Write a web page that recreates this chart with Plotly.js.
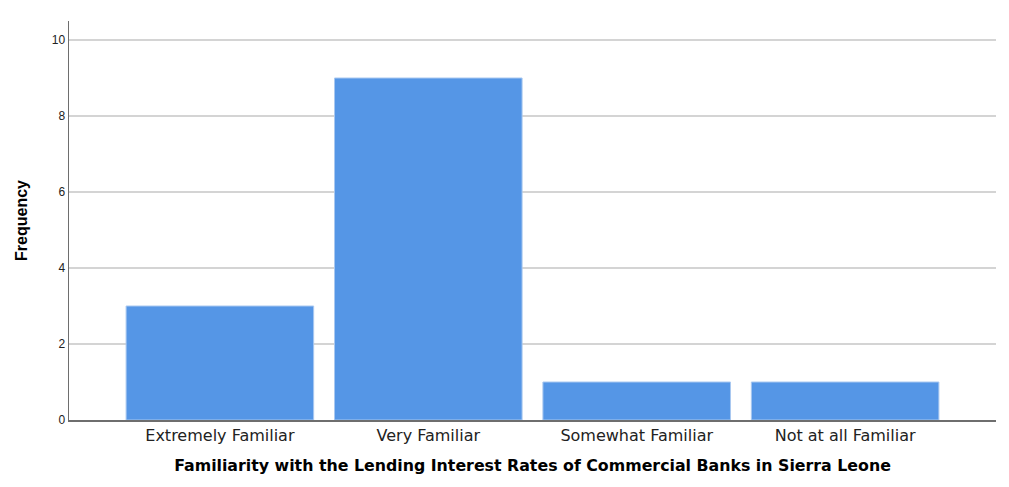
<!DOCTYPE html>
<html><head><meta charset="utf-8">
<script src="https://cdn.plot.ly/plotly-3.0.1.min.js"></script>
<style>html,body{margin:0;padding:0;background:#fff;}#chart{width:1009px;height:487px;}</style>
</head><body><div id="chart"></div>
<script>
const categories = ["Extremely Familiar", "Very Familiar", "Somewhat Familiar", "Not at all Familiar"];
const frequency = [3, 9, 1, 1];
const yTicks = [0, 2, 4, 6, 8, 10];

const trace = {
  type: 'bar', x: categories, y: frequency, width: 0.9,
  marker: {color: '#5596e6', line: {color: '#a9c8f0', width: 1}},
  hoverinfo: 'x+y'
};
const layout = {
  width: 1009, height: 487,
  margin: {l: 69, r: 13, t: 21, b: 67},
  paper_bgcolor: '#fff', plot_bgcolor: '#fff',
  showlegend: false,
  font: {family: 'Liberation Sans, Arial, sans-serif', color: '#222'},
  xaxis: {
    type: 'category', range: [-0.724, 3.724],
    showline: true, linecolor: '#6e6e6e', linewidth: 1.5,
    showgrid: false, ticks: '', tickfont: {family: 'DejaVu Sans, sans-serif', size: 16, color: '#222'},
    title: {text: '<b>Familiarity with the Lending Interest Rates of Commercial Banks in Sierra Leone</b>', font: {family: 'DejaVu Sans, sans-serif', size: 15.8, color: '#000'}, standoff: 16}
  },
  yaxis: {
    range: [0, 10.5], tickvals: yTicks, ticktext: yTicks.map(String),
    showline: true, linecolor: '#6e6e6e', linewidth: 1.5,
    showgrid: true, gridcolor: '#d4d4d4', gridwidth: 1.5,
    zeroline: false, ticks: '', tickfont: {size: 12, color: '#222'},
    title: {text: '<b>Frequency</b>', font: {size: 16, color: '#000'}, standoff: 20}
  }
};
Plotly.newPlot('chart', [trace], layout, {displayModeBar: false, staticPlot: true});
</script></body></html>
